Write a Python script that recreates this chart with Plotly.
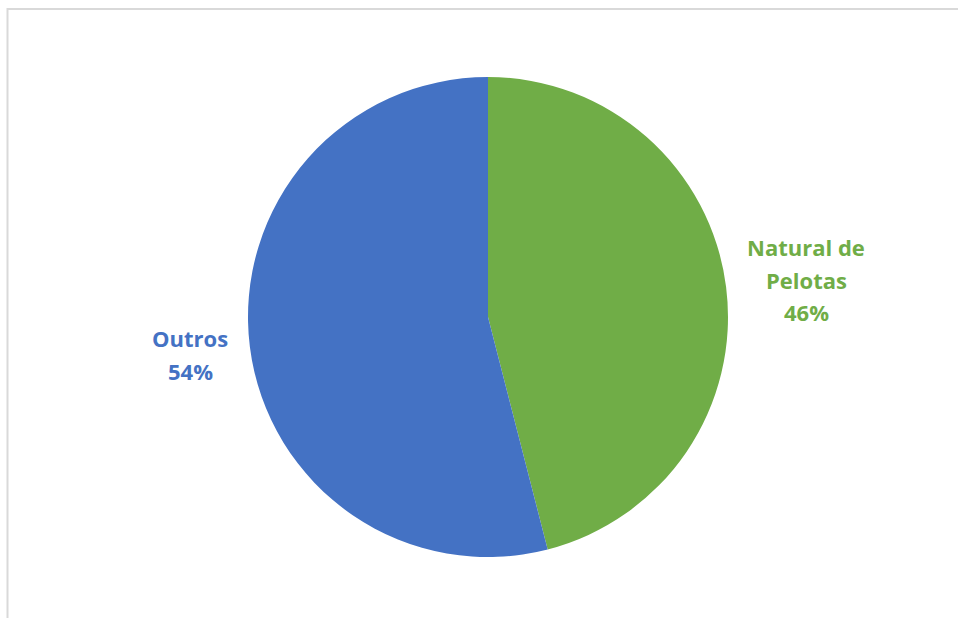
import plotly.graph_objects as go

labels = ["Natural de Pelotas", "Outros"]
values = [46, 54]
colors = ["#70AD47", "#4472C4"]
label_lines = [["Natural de", "Pelotas"], ["Outros"]]

W, H = 958, 618
total = sum(values)

fig = go.Figure(go.Pie(
    labels=labels, values=values, sort=False, direction="clockwise",
    rotation=0, marker=dict(colors=colors, line=dict(width=0)),
    textinfo="none", hoverinfo="label+percent", showlegend=False,
    domain=dict(x=[248 / W, 728 / W], y=[1 - 557 / H, 1 - 77 / H]),
))

# label block centres (pixels) and line spacing
centers = [(806, 247), (190, 338)]
line_h = 32.5
anns = []
for i, lines in enumerate(label_lines):
    pct = f"{round(values[i] / total * 100)}%"
    all_lines = lines + [pct]
    cx, cy = centers[i]
    for j, t in enumerate(all_lines):
        anns.append(dict(
            x=cx / W, y=1 - (cy + j * line_h) / H, xref="paper", yref="paper",
            text=f"<b>{t}</b>", showarrow=False, xanchor="center", yanchor="middle",
            font=dict(family="Open Sans", size=22, color=colors[i]),
        ))

shapes = [
    dict(type="line", xref="paper", yref="paper", x0=8 / W, x1=1, y0=1 - 9 / H, y1=1 - 9 / H,
         line=dict(color="#d9d9d9", width=2)),
    dict(type="line", xref="paper", yref="paper", x0=7.5 / W, x1=7.5 / W, y0=0, y1=1 - 8 / H,
         line=dict(color="#d9d9d9", width=2)),
]

fig.update_layout(
    width=W, height=H, margin=dict(l=0, r=0, t=0, b=0),
    paper_bgcolor="white", plot_bgcolor="white",
    annotations=anns, shapes=shapes,
)
fig.write_html("out.html")
